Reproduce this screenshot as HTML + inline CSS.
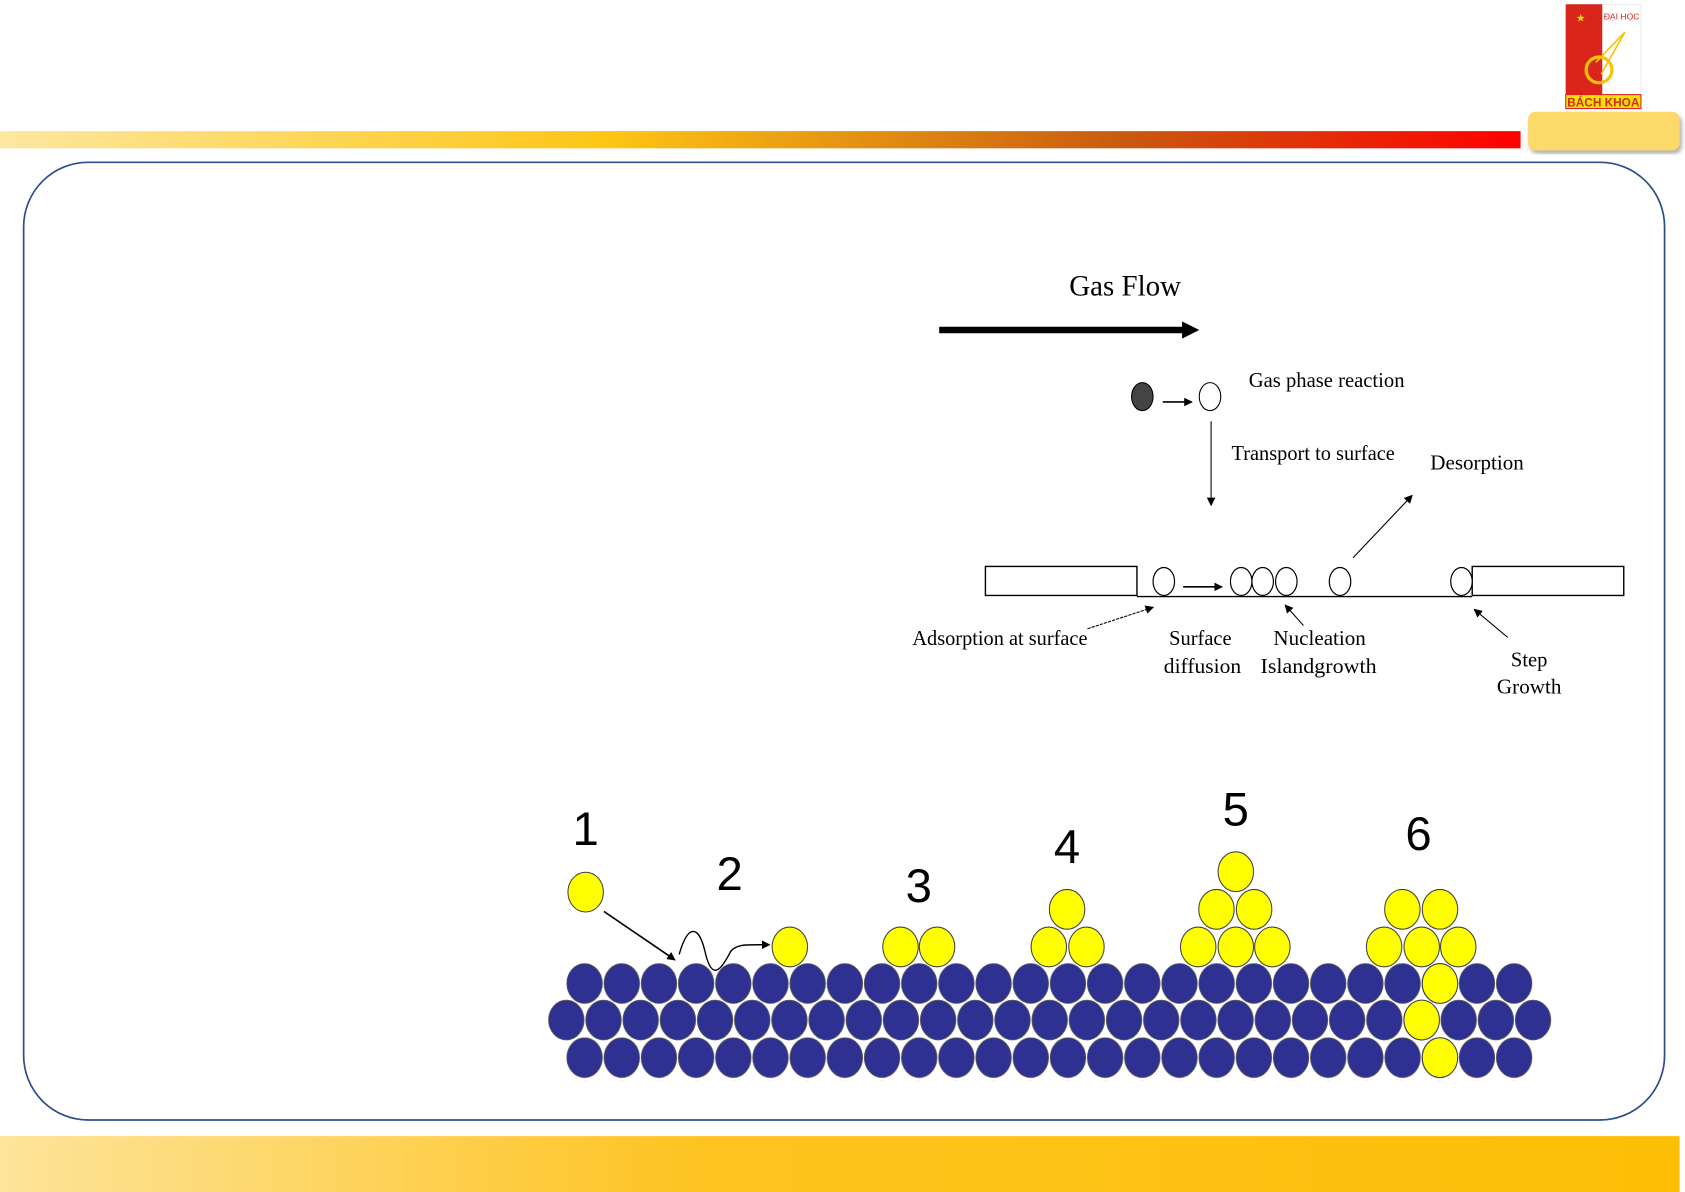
<!DOCTYPE html>
<html><head><meta charset="utf-8"><style>html,body{margin:0;padding:0;background:#fff;}svg{display:block}</style></head>
<body>
<svg width="1685" height="1192" viewBox="0 0 1568 1109" preserveAspectRatio="none" xmlns="http://www.w3.org/2000/svg">
<defs>
<linearGradient id="tb" x1="0" x2="1" y1="0" y2="0">
<stop offset="0" stop-color="#fde7a0"/><stop offset="0.4" stop-color="#fdc515"/><stop offset="0.74" stop-color="#c85a10"/><stop offset="1" stop-color="#ff0000"/>
</linearGradient>
<linearGradient id="bb" x1="0" x2="1" y1="0" y2="0">
<stop offset="0" stop-color="#fde49a"/><stop offset="0.42" stop-color="#fec320"/><stop offset="1" stop-color="#fdbf05"/>
</linearGradient>
<pattern id="pa" patternUnits="userSpaceOnUse" x="526.7" y="896" width="34.6" height="40">
<ellipse cx="17.3" cy="19" rx="16.5" ry="18.5" fill="#2e3192" stroke="#555" stroke-width="0.8"/>
</pattern>
<pattern id="pb" patternUnits="userSpaceOnUse" x="509.7" y="930" width="34.6" height="40">
<ellipse cx="17.3" cy="19" rx="16.5" ry="18.5" fill="#2e3192" stroke="#555" stroke-width="0.8"/>
</pattern>
<pattern id="pc" patternUnits="userSpaceOnUse" x="526.7" y="965" width="34.6" height="40">
<ellipse cx="17.3" cy="19" rx="16.5" ry="18.5" fill="#2e3192" stroke="#555" stroke-width="0.8"/>
</pattern>
<marker id="ah" markerWidth="8" markerHeight="8" refX="7" refY="4" orient="auto" markerUnits="userSpaceOnUse"><path d="M0,0 L8,4 L0,8z" fill="#000"/></marker>
<marker id="ahb" markerWidth="16" markerHeight="16" refX="14" refY="8" orient="auto" markerUnits="userSpaceOnUse"><path d="M0,0 L16,8 L0,16z" fill="#000"/></marker>
<filter id="sh"><feDropShadow dx="2" dy="3" stdDeviation="2" flood-color="#777" flood-opacity="0.6"/></filter>
</defs>

<!-- header -->
<rect x="0" y="122" width="1415" height="16" fill="url(#tb)"/>
<rect x="1422" y="104" width="141" height="36" rx="7" fill="#fdd96a" filter="url(#sh)"/>
<!-- logo -->
<rect x="1457" y="4" width="70" height="97" fill="#fff" stroke="#ddd" stroke-width="0.5"/>
<rect x="1457" y="4" width="34" height="84" fill="#d9251c"/>
<rect x="1457" y="88" width="70" height="13" fill="#f7e400" stroke="#d9251c" stroke-width="1"/>
<text x="1492" y="99" font-family="Liberation Sans, sans-serif" font-weight="bold" font-size="11" fill="#d9251c" text-anchor="middle">BÁCH KHOA</text>
<text x="1509" y="18" font-family="Liberation Sans, sans-serif" font-size="8" fill="#d9251c" text-anchor="middle">ĐẠI HỌC</text>
<text x="1471" y="20" font-family="Liberation Sans, sans-serif" font-size="10" fill="#f7e400" text-anchor="middle">★</text>
<circle cx="1488" cy="65" r="12" fill="none" stroke="#f7c400" stroke-width="3"/>
<path d="M1485,58 L1512,30 M1490,69 L1512,30" stroke="#f7c400" stroke-width="1.5" fill="none"/>

<!-- frame -->
<rect x="22" y="151" width="1527" height="891" rx="60" fill="none" stroke="#2e4e8e" stroke-width="1.6"/>

<!-- bottom bar -->
<rect x="0" y="1057" width="1563" height="52" fill="url(#bb)"/>

<!-- diagram 1 -->
<g font-family="Liberation Serif, serif" fill="#000">
<text x="1047" y="275" font-size="28" text-anchor="middle" textLength="104" lengthAdjust="spacingAndGlyphs">Gas Flow</text>
<line x1="874" y1="307" x2="1102" y2="307" stroke="#000" stroke-width="6"/>
<path d="M1100,299 L1116,307 L1100,315z"/>
<ellipse cx="1063" cy="369" rx="10" ry="13" fill="#444" stroke="#000"/>
<line x1="1082" y1="374" x2="1109" y2="374" stroke="#000" stroke-width="1.5" marker-end="url(#ah)"/>
<ellipse cx="1126" cy="369" rx="10" ry="13" fill="#fff" stroke="#000"/>
<text x="1162" y="360" font-size="20" textLength="145" lengthAdjust="spacingAndGlyphs">Gas phase reaction</text>
<line x1="1127" y1="392" x2="1127" y2="470" stroke="#000" stroke-width="1" marker-end="url(#ah)"/>
<text x="1146" y="428" font-size="20" textLength="152" lengthAdjust="spacingAndGlyphs">Transport to surface</text>
<text x="1331" y="437" font-size="20" textLength="87" lengthAdjust="spacingAndGlyphs">Desorption</text>
<line x1="1259" y1="519" x2="1314" y2="461" stroke="#000" stroke-width="1" marker-end="url(#ah)"/>
<rect x="917" y="527" width="141" height="27" fill="#fff" stroke="#000" stroke-width="1.3"/>
<rect x="1370" y="527" width="141" height="27" fill="#fff" stroke="#000" stroke-width="1.3"/>
<line x1="1058" y1="555" x2="1370" y2="555" stroke="#000" stroke-width="1.3"/>
<g fill="#fff" stroke="#000" stroke-width="1.1">
<ellipse cx="1083" cy="541" rx="10" ry="13"/>
<ellipse cx="1155" cy="541" rx="10" ry="13"/>
<ellipse cx="1175" cy="541" rx="10" ry="13"/>
<ellipse cx="1197" cy="541" rx="10" ry="13"/>
<ellipse cx="1247" cy="541" rx="10" ry="13"/>
<ellipse cx="1360" cy="541" rx="10" ry="13"/>
</g>
<line x1="1101" y1="546" x2="1137" y2="546" stroke="#000" stroke-width="1.5" marker-end="url(#ah)"/>
<text x="849" y="600" font-size="20" textLength="163" lengthAdjust="spacingAndGlyphs">Adsorption at surface</text>
<line x1="1012" y1="585" x2="1073" y2="565" stroke="#000" stroke-width="1" stroke-dasharray="3,1" marker-end="url(#ah)"/>
<text x="1117" y="600" font-size="20" text-anchor="middle" textLength="58" lengthAdjust="spacingAndGlyphs">Surface</text>
<text x="1119" y="626" font-size="20" text-anchor="middle" textLength="72" lengthAdjust="spacingAndGlyphs">diffusion</text>
<text x="1228" y="600" font-size="20" text-anchor="middle" textLength="86" lengthAdjust="spacingAndGlyphs">Nucleation</text>
<text x="1227" y="626" font-size="20" text-anchor="middle" textLength="108" lengthAdjust="spacingAndGlyphs">Islandgrowth</text>
<line x1="1213" y1="582" x2="1196" y2="563" stroke="#000" stroke-width="1" marker-end="url(#ah)"/>
<text x="1423" y="620" font-size="20" text-anchor="middle" textLength="34" lengthAdjust="spacingAndGlyphs">Step</text>
<text x="1423" y="645" font-size="20" text-anchor="middle" textLength="60" lengthAdjust="spacingAndGlyphs">Growth</text>
<line x1="1403" y1="593" x2="1372" y2="567" stroke="#000" stroke-width="1" marker-end="url(#ah)"/>
</g>

<!-- diagram 2 -->
<rect x="526.7" y="896" width="899.6" height="40" fill="url(#pa)"/>
<rect x="509.7" y="930" width="934.2" height="40" fill="url(#pb)"/>
<rect x="526.7" y="965" width="899.6" height="40" fill="url(#pc)"/>
<g fill="#ffff00" stroke="#444" stroke-width="1">
<ellipse cx="1340" cy="915" rx="16.5" ry="18.5"/>
<ellipse cx="1323" cy="949" rx="16.5" ry="18.5"/>
<ellipse cx="1340" cy="984" rx="16.5" ry="18.5"/>
<ellipse cx="545" cy="830" rx="16.5" ry="18.5"/>
<ellipse cx="735" cy="881" rx="16.5" ry="18.5"/>
<ellipse cx="838" cy="881" rx="16.5" ry="18.5"/>
<ellipse cx="872" cy="881" rx="16.5" ry="18.5"/>
<ellipse cx="976" cy="881" rx="16.5" ry="18.5"/>
<ellipse cx="1011" cy="881" rx="16.5" ry="18.5"/>
<ellipse cx="993" cy="846" rx="16.5" ry="18.5"/>
<ellipse cx="1115" cy="881" rx="16.5" ry="18.5"/>
<ellipse cx="1150" cy="881" rx="16.5" ry="18.5"/>
<ellipse cx="1184" cy="881" rx="16.5" ry="18.5"/>
<ellipse cx="1132" cy="846" rx="16.5" ry="18.5"/>
<ellipse cx="1167" cy="846" rx="16.5" ry="18.5"/>
<ellipse cx="1150" cy="811" rx="16.5" ry="18.5"/>
<ellipse cx="1288" cy="881" rx="16.5" ry="18.5"/>
<ellipse cx="1323" cy="881" rx="16.5" ry="18.5"/>
<ellipse cx="1357" cy="881" rx="16.5" ry="18.5"/>
<ellipse cx="1305" cy="846" rx="16.5" ry="18.5"/>
<ellipse cx="1340" cy="846" rx="16.5" ry="18.5"/>
</g>
<line x1="562" y1="848" x2="628" y2="893" stroke="#000" stroke-width="1.5" marker-end="url(#ah)"/>
<path d="M632,888 C640,860 650,860 656,885 C662,912 670,905 680,885 C686,878 695,879 716,879" fill="none" stroke="#000" stroke-width="1.3" marker-end="url(#ah)"/>
<g font-family="Liberation Sans, sans-serif" font-size="44" fill="#000" text-anchor="middle">
<text x="545" y="786">1</text>
<text x="679" y="828">2</text>
<text x="855" y="839">3</text>
<text x="993" y="803">4</text>
<text x="1150" y="768">5</text>
<text x="1320" y="791">6</text>
</g>
</svg>
</body></html>
